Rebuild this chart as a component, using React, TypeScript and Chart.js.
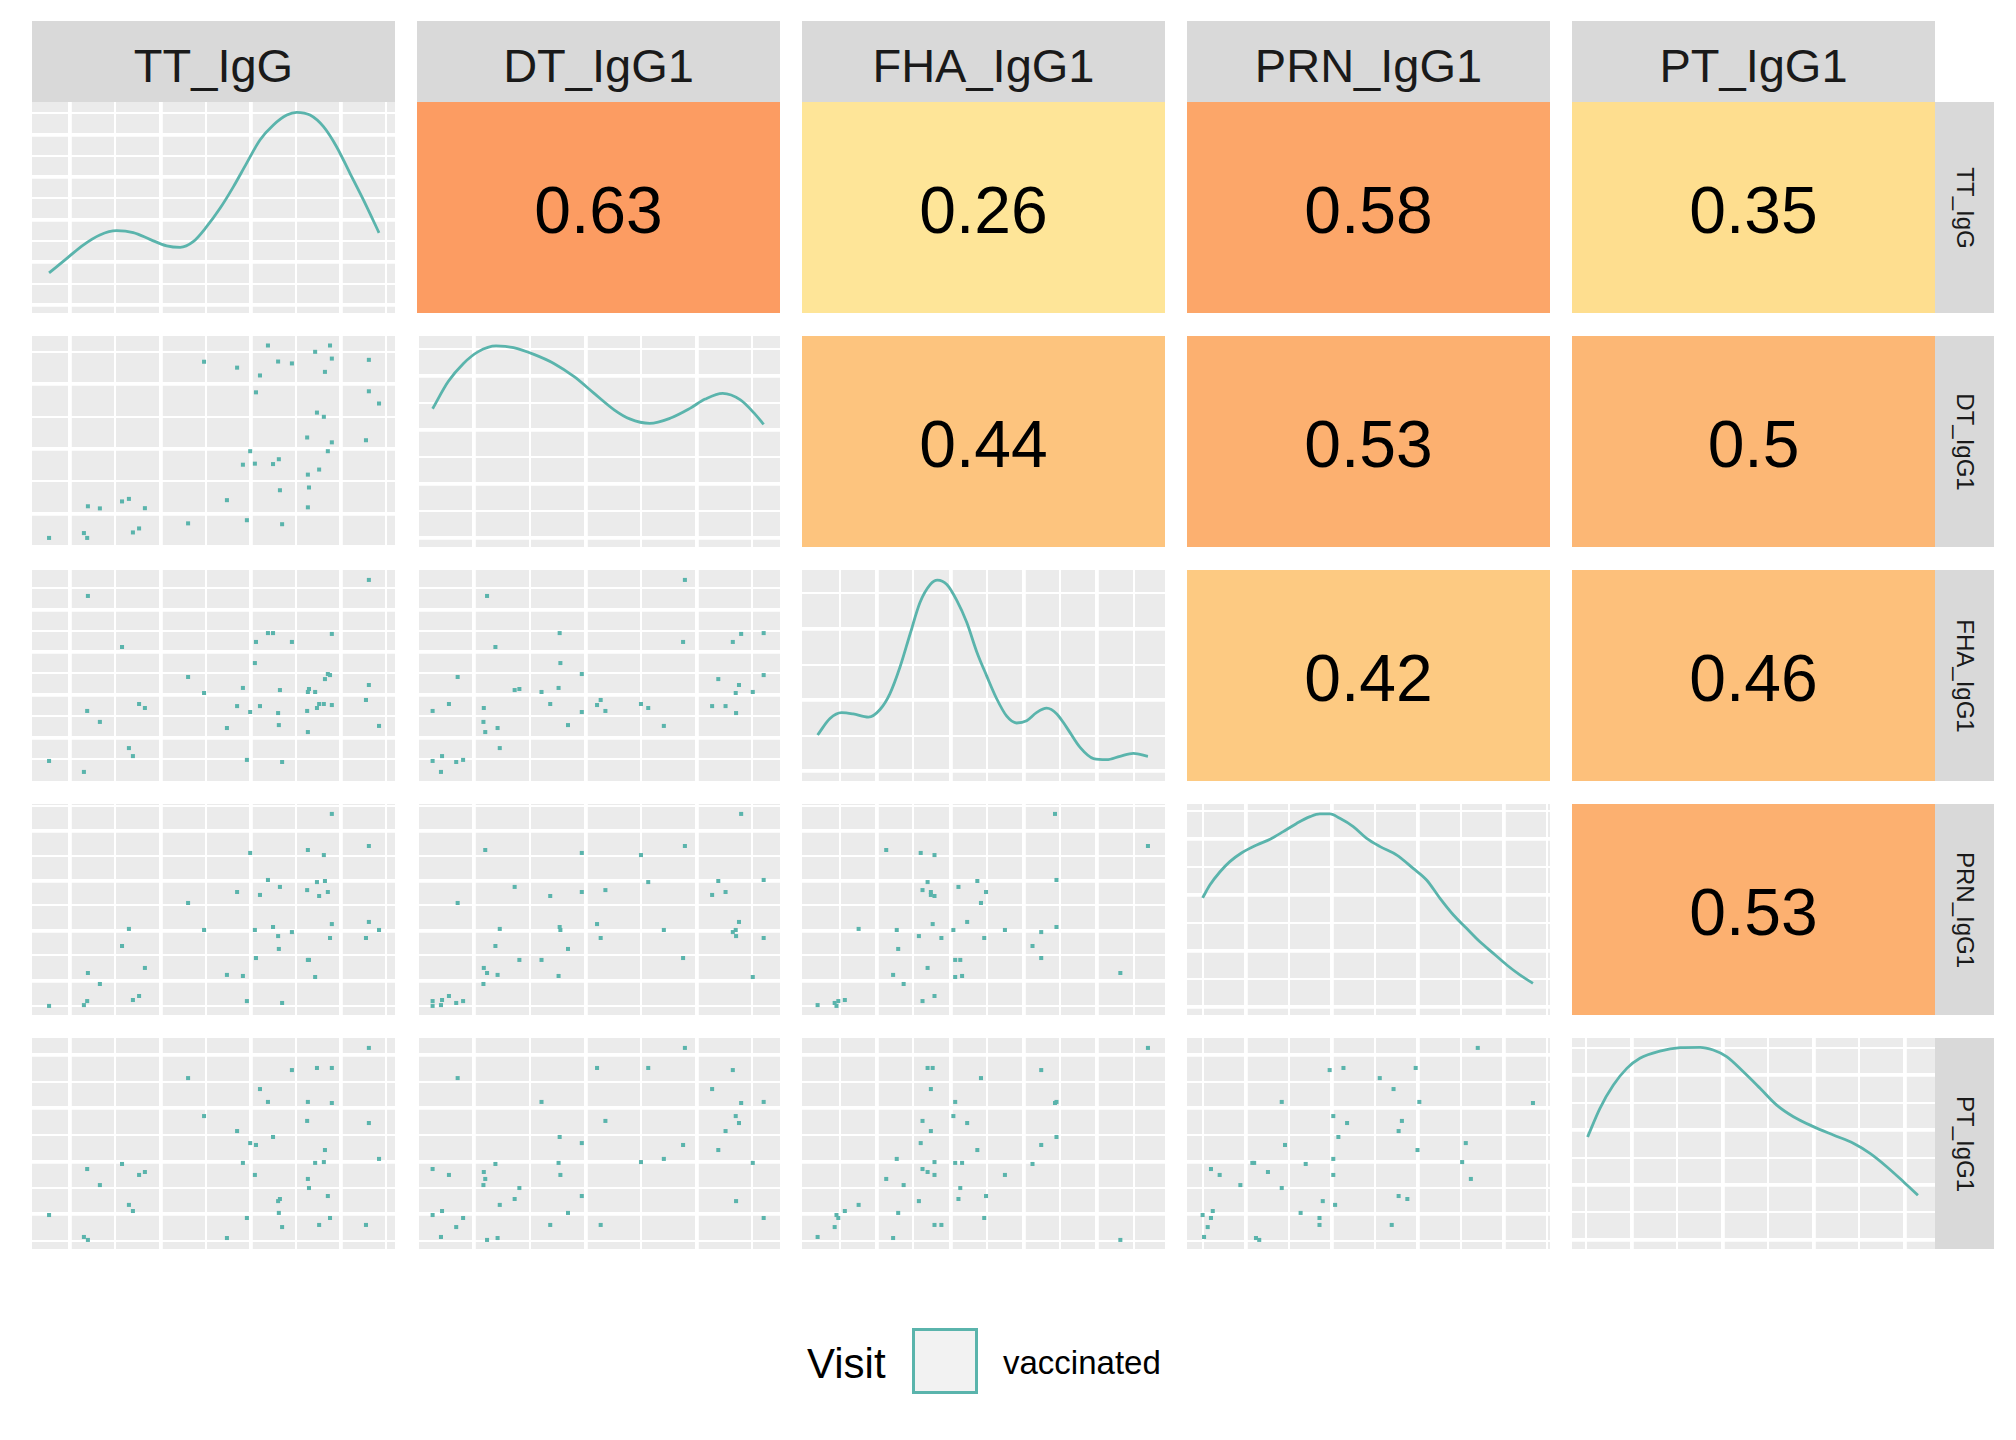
import React, { useEffect, useRef } from "react";
import { Chart, registerables } from "chart.js";

Chart.register(...registerables);

// ---------------- data ----------------
const variableNames = ["TT_IgG", "DT_IgG1", "FHA_IgG1", "PRN_IgG1", "PT_IgG1"];
const legendTitle = "Visit";
const legendLabel = "vaccinated";

// one value per subject (n = 44), each on its variable's own axis scale (0–100)
const ttIgG = [4.7, 14.3, 15.2, 15.4, 18.7, 24.8, 26.7, 27.8, 29.5, 31.1, 43.0, 47.4, 53.7, 56.5, 58.1, 59.2, 60.1, 61.4, 61.7, 62.8, 65.0, 66.4, 67.8, 68.0, 68.3, 68.9, 71.6, 75.8, 76.0, 76.0, 76.3, 78.0, 78.5, 79.1, 80.4, 80.7, 81.5, 82.1, 82.6, 82.6, 92.0, 92.8, 92.8, 95.6];
const dtIgG1 = [4.3, 6.6, 4.3, 19.3, 18.3, 21.6, 22.8, 6.9, 8.8, 18.4, 11.2, 87.8, 22.2, 85.0, 39.0, 12.7, 45.4, 39.5, 73.3, 81.3, 95.5, 39.3, 87.9, 41.6, 26.9, 10.8, 87.0, 51.9, 34.3, 18.8, 28.2, 92.5, 63.7, 36.7, 61.7, 83.0, 45.4, 95.5, 89.3, 49.6, 50.6, 88.7, 73.8, 68.0];
const fhaIgG1 = [9.5, 4.3, 33.2, 87.7, 28.0, 63.5, 15.6, 11.8, 36.5, 34.6, 49.3, 41.7, 25.1, 35.5, 44.1, 10.0, 32.7, 55.9, 65.9, 35.5, 70.1, 70.1, 32.2, 26.5, 43.1, 9.0, 65.9, 33.2, 42.2, 23.2, 43.6, 42.2, 34.6, 36.5, 36.5, 48.3, 50.7, 50.2, 69.7, 36.0, 38.4, 45.5, 95.3, 26.1];
const prnIgG1 = [4.3, 4.7, 6.6, 19.9, 14.7, 32.7, 40.8, 7.1, 9.0, 22.3, 53.1, 40.3, 19.0, 58.3, 18.5, 6.6, 76.8, 40.3, 27.0, 56.9, 64.0, 41.7, 37.4, 31.3, 60.7, 5.7, 39.3, 59.2, 26.1, 78.2, 26.1, 18.0, 63.0, 56.4, 75.8, 63.5, 58.3, 36.5, 95.3, 43.1, 36.5, 44.1, 80.1, 40.3];
const ptIgG1 = [16.1, 5.7, 37.9, 4.3, 30.3, 40.3, 20.9, 18.0, 35.1, 36.5, 81.0, 63.0, 5.2, 55.9, 40.8, 14.7, 50.2, 35.1, 49.3, 75.8, 69.7, 53.1, 22.7, 17.1, 23.7, 10.4, 84.8, 60.7, 69.7, 33.2, 28.9, 40.8, 85.8, 11.4, 41.2, 46.9, 25.1, 14.7, 69.2, 85.8, 11.4, 59.7, 95.3, 42.7];

// correlations of the upper triangle: [row, col]
const corrCells: [number, number][] = [[0, 1], [0, 2], [0, 3], [0, 4], [1, 2], [1, 3], [1, 4], [2, 3], [2, 4], [3, 4]];
const corrValues = [0.63, 0.26, 0.58, 0.35, 0.44, 0.53, 0.5, 0.42, 0.46, 0.53];

// diagonal density curves: [value, relative density]
const ttDensity = [[4.7, 19.0], [9.6, 25.9], [14.1, 32.2], [18.7, 37.0], [23.3, 39.0], [27.9, 38.1], [32.5, 34.9], [37.1, 31.8], [40.8, 31.1], [44.4, 33.8], [48.1, 40.9], [51.8, 49.6], [55.5, 59.9], [59.1, 70.9], [62.8, 82.0], [66.5, 89.1], [70.2, 93.8], [72.9, 95.1], [76.6, 93.8], [80.3, 88.3], [83.9, 78.8], [87.6, 66.2], [91.3, 53.6], [95.6, 38.0]];
const dtDensity = [[4.3, 65.5], [8.6, 78.4], [12.8, 87.0], [16.9, 92.6], [21.8, 95.3], [26.6, 94.5], [32.2, 91.3], [37.7, 87.0], [43.3, 80.7], [48.8, 72.8], [54.4, 64.9], [58.6, 60.7], [64.1, 58.6], [69.7, 61.0], [75.2, 65.7], [79.4, 70.1], [84.2, 72.8], [89.1, 69.7], [93.3, 62.6], [95.5, 58.1]];
const fhaDensity = [[4.3, 21.8], [7.7, 29.6], [10.9, 32.4], [14.1, 31.8], [18.3, 30.3], [21.5, 33.9], [24.2, 41.3], [27.0, 54.0], [29.8, 69.8], [32.5, 84.6], [35.3, 93.1], [37.3, 95.2], [39.9, 93.1], [42.6, 85.7], [45.4, 75.1], [48.1, 61.4], [50.9, 49.7], [53.6, 39.1], [56.4, 30.7], [59.1, 27.5], [61.9, 28.6], [64.6, 32.4], [67.4, 34.5], [70.2, 31.8], [72.9, 25.4], [76.6, 15.9], [80.3, 10.6], [83.9, 10.1], [87.6, 11.7], [91.3, 13.1], [95.3, 11.7]];
const prnDensity = [[4.3, 55.5], [6.3, 61.6], [9.1, 67.9], [11.8, 72.7], [15.1, 76.9], [19.2, 80.6], [22.9, 83.3], [26.5, 86.9], [30.2, 90.8], [33.9, 94.0], [36.6, 95.3], [39.4, 95.3], [42.1, 93.2], [45.8, 89.3], [49.5, 83.7], [53.2, 79.8], [57.8, 75.8], [62.3, 69.5], [66.0, 64.0], [69.7, 55.3], [73.4, 47.4], [77.0, 41.1], [80.7, 34.7], [84.4, 29.2], [88.1, 23.7], [91.7, 19.0], [95.3, 15.0]];
const ptDensity = [[4.3, 53.1], [7.7, 66.7], [11.4, 77.7], [15.1, 85.6], [18.7, 90.4], [24.2, 93.8], [29.8, 95.4], [35.3, 95.6], [38.9, 94.3], [42.6, 91.2], [47.2, 84.0], [51.8, 76.2], [56.4, 68.2], [61.0, 62.7], [66.5, 58.0], [72.0, 54.0], [77.5, 50.1], [82.1, 45.3], [86.7, 39.0], [91.3, 31.9], [95.3, 25.5]];

// axis breaks (all grid lines) and which of them are major
const ttBreaks = [10.5, 22.9, 35.4, 47.8, 60.2, 72.6, 85.1, 97.5];
const ttMajor = [10.5, 35.4, 60.2, 85.1];
const dtBreaks = [0.4, 15.7, 31.1, 46.4, 61.7, 77.1, 92.4];
const dtMajor = [15.7, 46.4, 77.1];
const fhaBreaks = [10.5, 20.6, 30.7, 40.9, 51.0, 61.1, 71.2, 81.3, 91.5];
const fhaMajor = [20.6, 40.9, 61.1, 81.3];
const prnBreaks = [4.5, 16.3, 28.2, 40.0, 51.9, 63.7, 75.5, 87.4, 99.2];
const prnMajor = [16.3, 40.0, 63.7, 87.4];
const ptBreaks = [3.8, 16.4, 28.9, 41.5, 54.1, 66.7, 79.2, 91.8];
const ptMajor = [16.4, 41.5, 66.7, 91.8];

const ttDensBreaks = [3.8, 13.9, 24.0, 34.1, 44.2, 54.3, 64.4, 74.5, 84.6, 94.7];
const ttDensMajor = [3.8, 24.0, 44.2, 64.4, 84.6];
const dtDensBreaks = [4.1, 16.9, 29.7, 42.5, 55.3, 68.1, 80.9, 93.7];
const dtDensMajor = [4.1, 29.7, 55.3, 80.9];
const fhaDensBreaks = [4.6, 21.5, 38.3, 55.2, 72.0, 88.9];
const fhaDensMajor = [4.6, 38.3, 72.0];
const prnDensBreaks = [3.9, 17.2, 30.4, 43.7, 57.0, 70.3, 83.5, 96.8];
const prnDensMajor = [3.9, 30.4, 57.0, 83.5];
const ptDensBreaks = [4.3, 17.3, 30.3, 43.3, 56.3, 69.3, 82.3, 95.3];
const ptDensMajor = [4.3, 30.3, 56.3, 82.3];

// ---------------- styling ----------------
const TEAL = "#5AB4AC";
const PANEL_BG = "#EBEBEB";
const STRIP_BG = "#D9D9D9";
const FONT = "'Liberation Sans', Arial, Helvetica, sans-serif";
const LEFT = 32;
const TOP = 102;
const PW = 363;
const PH = 211;
const STEP_X = 385;
const STEP_Y = 234;
const MAJOR_W = 3.8;
const MINOR_W = 2.0;

const corrStops: [number, string][] = [
  [0.26, "#FEE598"],
  [0.35, "#FEDE8F"],
  [0.44, "#FDC47E"],
  [0.53, "#FCB070"],
  [0.63, "#FC9C62"],
];

function hexToRgb(h: string) {
  return [parseInt(h.slice(1, 3), 16), parseInt(h.slice(3, 5), 16), parseInt(h.slice(5, 7), 16)];
}
function corrColor(v: number) {
  if (v <= corrStops[0][0]) return corrStops[0][1];
  for (let k = 1; k < corrStops.length; k++) {
    if (v <= corrStops[k][0]) {
      const [v0, c0] = corrStops[k - 1];
      const [v1, c1] = corrStops[k];
      const t = (v - v0) / (v1 - v0);
      const a = hexToRgb(c0);
      const b = hexToRgb(c1);
      const m = a.map((x, i) => Math.round(x + (b[i] - x) * t));
      return `rgb(${m[0]},${m[1]},${m[2]})`;
    }
  }
  return corrStops[corrStops.length - 1][1];
}

const values = [ttIgG, dtIgG1, fhaIgG1, prnIgG1, ptIgG1];
const breaks = [ttBreaks, dtBreaks, fhaBreaks, prnBreaks, ptBreaks];
const majors = [ttMajor, dtMajor, fhaMajor, prnMajor, ptMajor];
const densities = [ttDensity, dtDensity, fhaDensity, prnDensity, ptDensity];
const densBreaks = [ttDensBreaks, dtDensBreaks, fhaDensBreaks, prnDensBreaks, ptDensBreaks];
const densMajors = [ttDensMajor, dtDensMajor, fhaDensMajor, prnDensMajor, ptDensMajor];

// ---------------- chart helpers ----------------
const panelBgPlugin = {
  id: "panelBg",
  beforeDraw(chart: any) {
    const { ctx, chartArea: a } = chart;
    ctx.save();
    ctx.fillStyle = PANEL_BG;
    ctx.fillRect(a.left, a.top, a.width, a.height);
    ctx.restore();
  },
};

const corrTextPlugin = {
  id: "corrText",
  afterDatasetsDraw(chart: any, _args: any, opts: any) {
    const bar = chart.getDatasetMeta(0).data[0];
    if (!bar) return;
    const p = bar.getProps(["x", "y", "base"], true);
    const cy = (p.y + p.base) / 2;
    const ctx = chart.ctx;
    ctx.save();
    ctx.font = `66px ${FONT}`;
    ctx.fillStyle = "#000000";
    ctx.textAlign = "center";
    ctx.textBaseline = "alphabetic";
    ctx.fillText(opts.text, p.x, cy + 25.5);
    ctx.restore();
  },
};

function gridAxis(br: number[], mj: number[]) {
  return {
    type: "linear",
    min: 0,
    max: 100,
    ticks: { display: false },
    border: { display: false },
    grid: {
      color: "#FFFFFF",
      drawTicks: false,
      lineWidth: (c: any) => (c.tick && c.tick.major ? MAJOR_W : MINOR_W),
    },
    afterBuildTicks: (scale: any) => {
      scale.ticks = br.map((v) => ({ value: v, major: mj.includes(v) }));
    },
  };
}

const baseOptions = {
  animation: false,
  responsive: false,
  maintainAspectRatio: false,
  events: [],
  layout: { padding: 0, autoPadding: false },
};

function scatterConfig(row: number, col: number) {
  const xs = values[col];
  const ys = values[row];
  return {
    type: "scatter",
    data: {
      datasets: [
        {
          data: xs.map((x, k) => ({ x, y: ys[k] })),
          pointStyle: "rect",
          pointRadius: 2.85,
          pointBackgroundColor: TEAL,
          pointBorderWidth: 0,
          pointHoverRadius: 2.85,
        },
      ],
    },
    options: {
      ...baseOptions,
      plugins: { legend: { display: false }, tooltip: { enabled: false } },
      scales: { x: gridAxis(breaks[col], majors[col]), y: gridAxis(breaks[row], majors[row]) },
    },
    plugins: [panelBgPlugin],
  };
}

function densityConfig(k: number) {
  return {
    type: "scatter",
    data: {
      datasets: [
        {
          data: densities[k].map(([x, y]) => ({ x, y })),
          showLine: true,
          borderColor: TEAL,
          borderWidth: 2.8,
          pointRadius: 0,
          fill: false,
          cubicInterpolationMode: "monotone",
        },
      ],
    },
    options: {
      ...baseOptions,
      plugins: { legend: { display: false }, tooltip: { enabled: false } },
      scales: { x: gridAxis(breaks[k], majors[k]), y: gridAxis(densBreaks[k], densMajors[k]) },
    },
    plugins: [panelBgPlugin],
  };
}

function corrConfig(v: number) {
  return {
    type: "bar",
    data: {
      labels: [""],
      datasets: [
        {
          data: [1],
          backgroundColor: corrColor(v),
          borderWidth: 0,
          barPercentage: 1,
          categoryPercentage: 1,
        },
      ],
    },
    options: {
      ...baseOptions,
      plugins: {
        legend: { display: false },
        tooltip: { enabled: false },
        corrText: { text: String(v) },
      },
      scales: {
        x: { display: false },
        y: { display: false, min: 0, max: 1 },
      },
    },
    plugins: [corrTextPlugin],
  };
}

function ChartCanvas(props: { left: number; top: number; width: number; height: number; make: () => any }) {
  const ref = useRef<HTMLCanvasElement | null>(null);
  useEffect(() => {
    if (!ref.current) return;
    const chart = new Chart(ref.current, props.make());
    return () => chart.destroy();
  }, []);
  return (
    <canvas
      ref={ref}
      width={props.width}
      height={props.height}
      style={{ position: "absolute", left: props.left, top: props.top, width: props.width, height: props.height }}
    />
  );
}

export default function App() {
  const panels: React.ReactNode[] = [];
  for (let r = 0; r < 5; r++) {
    for (let c = 0; c < 5; c++) {
      const left = LEFT + c * STEP_X;
      const top = TOP + r * STEP_Y;
      let make: () => any;
      if (r === c) make = () => densityConfig(r);
      else if (r > c) make = () => scatterConfig(r, c);
      else {
        const idx = corrCells.findIndex(([a, b]) => a === r && b === c);
        make = () => corrConfig(corrValues[idx]);
      }
      panels.push(<ChartCanvas key={`p${r}-${c}`} left={left} top={top} width={PW} height={PH} make={make} />);
    }
  }

  const topStrips = variableNames.map((name, c) => (
    <div
      key={`ts${c}`}
      style={{
        position: "absolute",
        left: LEFT + c * STEP_X,
        top: 21,
        width: PW,
        height: TOP - 21,
        background: STRIP_BG,
        color: "#1A1A1A",
        fontFamily: FONT,
        fontSize: 47,
        lineHeight: "89px",
        textAlign: "center",
        whiteSpace: "nowrap",
        overflow: "visible",
      }}
    >
      {name}
    </div>
  ));

  const rightStrips = variableNames.map((name, r) => (
    <div
      key={`rs${r}`}
      style={{
        position: "absolute",
        left: LEFT + 4 * STEP_X + PW,
        top: TOP + r * STEP_Y,
        width: 59,
        height: PH,
        background: STRIP_BG,
      }}
    >
      <div
        style={{
          position: "absolute",
          left: "50%",
          top: "50%",
          transform: "translate(-50%, -50%) rotate(90deg)",
          color: "#1A1A1A",
          fontFamily: FONT,
          fontSize: 24,
          lineHeight: "24px",
          whiteSpace: "nowrap",
        }}
      >
        {name}
      </div>
    </div>
  ));

  return (
    <div
      style={{
        position: "absolute",
        left: 0,
        top: 0,
        width: 2016,
        height: 1440,
        background: "#FFFFFF",
        overflow: "hidden",
      }}
    >
      {topStrips}
      {rightStrips}
      {panels}
      <div
        style={{
          position: "absolute",
          left: 807,
          top: 1343,
          fontFamily: FONT,
          fontSize: 42,
          lineHeight: "42px",
          color: "#000000",
          whiteSpace: "nowrap",
        }}
      >
        {legendTitle}
      </div>
      <div
        style={{
          position: "absolute",
          left: 912,
          top: 1328,
          width: 66,
          height: 66,
          boxSizing: "border-box",
          border: `3px solid ${TEAL}`,
          background: "#F2F2F2",
        }}
      />
      <div
        style={{
          position: "absolute",
          left: 1003,
          top: 1346,
          fontFamily: FONT,
          fontSize: 33,
          lineHeight: "33px",
          color: "#000000",
          whiteSpace: "nowrap",
        }}
      >
        {legendLabel}
      </div>
    </div>
  );
}
